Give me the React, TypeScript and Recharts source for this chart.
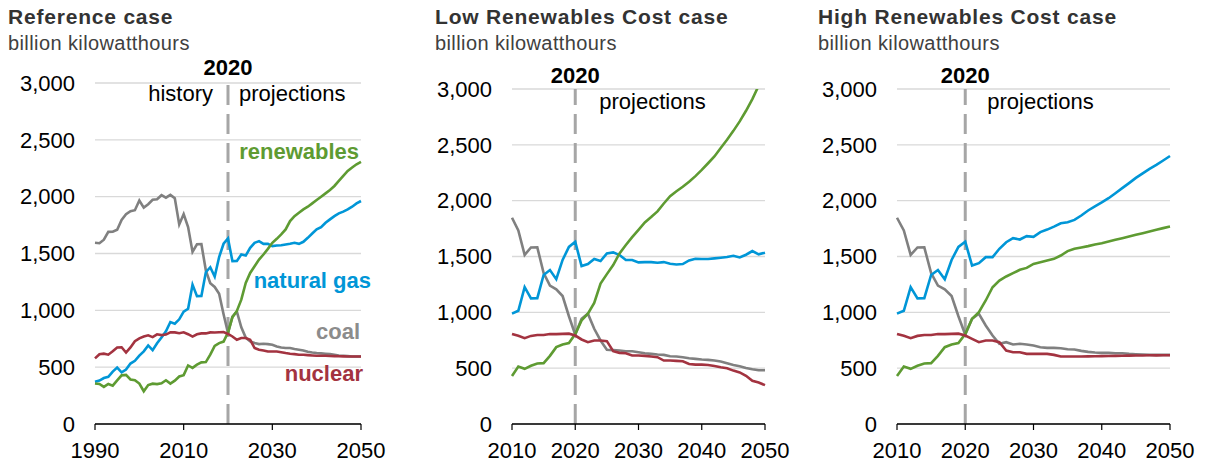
import React from 'react';
import { LineChart, Line, XAxis, YAxis, CartesianGrid, ReferenceLine } from 'recharts';

const FONT = '"Liberation Sans", Arial, Helvetica, sans-serif';

const COLORS = {
  coal: '#808080',
  gas: '#0096d7',
  nuclear: '#a33340',
  renewables: '#5e9b32',
};

// Historical data, 1990-2020 (billion kWh)
const histYears = [
  1990, 1991, 1992, 1993, 1994, 1995, 1996, 1997, 1998, 1999,
  2000, 2001, 2002, 2003, 2004, 2005, 2006, 2007, 2008, 2009,
  2010, 2011, 2012, 2013, 2014, 2015, 2016, 2017, 2018, 2019, 2020,
];
const coalHist = [
  1594, 1590, 1621, 1690, 1691, 1709, 1796, 1845, 1873, 1881,
  1966, 1904, 1933, 1973, 1978, 2013, 1991, 2016, 1986, 1756,
  1847, 1733, 1514, 1581, 1582, 1352, 1239, 1206, 1146, 965, 800,
];
const gasHist = [
  372, 382, 404, 415, 461, 496, 455, 479, 532, 556,
  601, 639, 691, 650, 710, 761, 816, 897, 883, 921,
  988, 1014, 1226, 1125, 1127, 1335, 1379, 1297, 1469, 1586, 1632,
];
const nuclearHist = [
  577, 613, 619, 610, 640, 673, 675, 629, 674, 728,
  754, 769, 780, 764, 789, 782, 787, 806, 806, 799,
  807, 790, 769, 789, 797, 797, 806, 805, 807, 809, 792,
];
const renewHist = [
  357, 352, 326, 352, 337, 384, 428, 432, 392, 386,
  356, 288, 343, 355, 351, 358, 385, 355, 381, 418,
  430, 515, 494, 522, 542, 545, 610, 688, 712, 725, 805,
];

// Projection years, 2021-2050
const projYears = [
  2021, 2022, 2023, 2024, 2025, 2026, 2027, 2028, 2029, 2030,
  2031, 2032, 2033, 2034, 2035, 2036, 2037, 2038, 2039, 2040,
  2041, 2042, 2043, 2044, 2045, 2046, 2047, 2048, 2049, 2050,
];

// Reference case
const refCoal = [
  945, 988, 850, 760, 726, 712, 703, 706, 703, 697,
  682, 673, 668, 668, 659, 653, 647, 635, 629, 624,
  621, 618, 615, 609, 603, 600, 597, 594, 594, 594,
];
const refGas = [
  1432, 1435, 1491, 1482, 1550, 1594, 1609, 1585, 1585, 1565,
  1570, 1573, 1579, 1585, 1594, 1585, 1603, 1638, 1676, 1712,
  1732, 1770, 1800, 1829, 1853, 1868, 1888, 1912, 1941, 1962,
];
const refNuclear = [
  770, 741, 756, 756, 741, 668, 653, 647, 638, 638,
  638, 632, 624, 618, 615, 609, 609, 606, 603, 600,
  600, 600, 598, 597, 596, 595, 594, 594, 594, 594,
];
const refRenew = [
  940, 995, 1094, 1241, 1329, 1388, 1447, 1491, 1541, 1594,
  1629, 1668, 1712, 1785, 1829, 1859, 1888, 1912, 1941, 1970,
  2000, 2029, 2059, 2094, 2138, 2182, 2226, 2256, 2285, 2306,
];

// Low Renewables Cost case
const lowCoal = [
  943, 988, 853, 748, 665, 662, 658, 652, 652, 643,
  634, 628, 622, 619, 607, 604, 598, 589, 583, 577,
  574, 568, 559, 544, 529, 517, 502, 490, 481, 481,
];
const lowGas = [
  1414, 1432, 1477, 1459, 1528, 1537, 1513, 1468, 1468, 1447,
  1450, 1450, 1444, 1450, 1435, 1429, 1432, 1465, 1480, 1477,
  1477, 1483, 1489, 1495, 1507, 1492, 1516, 1549, 1519, 1534,
];
const lowNuclear = [
  757, 733, 748, 748, 742, 652, 637, 634, 613, 613,
  610, 604, 598, 568, 568, 565, 562, 538, 532, 532,
  529, 520, 508, 499, 478, 462, 432, 387, 372, 348,
];
const lowRenew = [
  928, 988, 1084, 1258, 1342, 1423, 1528, 1603, 1673, 1739,
  1805, 1853, 1904, 1975, 2040, 2085, 2125, 2170, 2220, 2275,
  2335, 2396, 2471, 2546, 2625, 2710, 2805, 2910, 3030, 3160,
];

// High Renewables Cost case
const highCoal = [
  942, 987, 882, 792, 718, 733, 712, 718, 712, 703,
  688, 682, 682, 679, 670, 667, 655, 646, 640, 637,
  637, 634, 634, 628, 625, 622, 619, 619, 619, 619,
];
const highGas = [
  1419, 1440, 1494, 1494, 1569, 1628, 1664, 1652, 1682, 1676,
  1718, 1741, 1768, 1798, 1807, 1828, 1867, 1912, 1948, 1984,
  2022, 2067, 2112, 2157, 2204, 2245, 2285, 2320, 2360, 2400,
];
const highNuclear = [
  762, 733, 748, 748, 733, 658, 643, 643, 628, 628,
  628, 628, 619, 604, 604, 605, 605, 606, 607, 608,
  609, 610, 611, 612, 613, 614, 615, 615, 616, 616,
];
const highRenew = [
  942, 1001, 1106, 1225, 1285, 1321, 1351, 1381, 1398, 1434,
  1449, 1464, 1479, 1509, 1548, 1569, 1581, 1593, 1607, 1619,
  1634, 1649, 1664, 1679, 1694, 1709, 1724, 1739, 1754, 1768,
];

const yTicks = [0, 500, 1000, 1500, 2000, 2500, 3000];
const refXTicks = [1990, 2010, 2030, 2050];
const altXTicks = [2010, 2020, 2030, 2040, 2050];

type Proj = { coal: number[]; gas: number[]; nuclear: number[]; renewables: number[] };

function buildRows(fromYear: number, proj: Proj) {
  const rows: any[] = [];
  histYears.forEach((y, i) => {
    if (y >= fromYear) {
      rows.push({ year: y, coal: coalHist[i], gas: gasHist[i], nuclear: nuclearHist[i], renewables: renewHist[i] });
    }
  });
  projYears.forEach((y, i) => {
    rows.push({ year: y, coal: proj.coal[i], gas: proj.gas[i], nuclear: proj.nuclear[i], renewables: proj.renewables[i] });
  });
  return rows;
}

const refRows = buildRows(1990, { coal: refCoal, gas: refGas, nuclear: refNuclear, renewables: refRenew });
const lowRows = buildRows(2010, { coal: lowCoal, gas: lowGas, nuclear: lowNuclear, renewables: lowRenew });
const highRows = buildRows(2010, { coal: highCoal, gas: highGas, nuclear: highNuclear, renewables: highRenew });

const fmt = (v: number) => v.toLocaleString('en-US');

function makeAnnotation(yearDy: number, showHistory: boolean, projDx: number, textDy: number) {
  return (props: any) => {
    const vb = props.viewBox || {};
    const x = vb.x ?? 0;
    const y = vb.y ?? 0;
    return (
      <g fontFamily={FONT}>
        <text x={x} y={y + yearDy} textAnchor="middle" fontSize={22} fontWeight="bold" fill="#000">
          2020
        </text>
        {showHistory && (
          <text x={x - 15} y={y + textDy} textAnchor="end" fontSize={22} fill="#000">
            history
          </text>
        )}
        <text x={x + projDx} y={y + textDy} textAnchor="start" fontSize={22} fill="#000">
          projections
        </text>
      </g>
    );
  };
}

type PanelProps = {
  left: number;
  width: number;
  top: number;
  right: number;
  yWidth: number;
  rows: any[];
  domain: [number, number];
  xTicks: number[];
  annotation: (p: any) => React.ReactElement;
};

function Panel({ left, width, top, right, yWidth, rows, domain, xTicks, annotation }: PanelProps) {
  return (
    <div style={{ position: 'absolute', left, top: 0, width, height: 463 }}>
      <LineChart width={width} height={463} data={rows} margin={{ top, right, bottom: 0, left: 0 }}>
        <CartesianGrid horizontal vertical={false} stroke="#d9d9d9" strokeWidth={1.3} />
        <XAxis
          dataKey="year"
          type="number"
          domain={domain}
          ticks={xTicks}
          interval={0}
          height={39}
          axisLine={{ stroke: '#000', strokeWidth: 1.4 }}
          tickLine={{ stroke: '#000', strokeWidth: 1.2 }}
          tickSize={6}
          tickMargin={12}
          tick={{ fontSize: 22, fill: '#000', fontFamily: FONT }}
        />
        <YAxis
          type="number"
          domain={[0, 3000]}
          ticks={yTicks}
          interval={0}
          allowDataOverflow
          width={yWidth}
          axisLine={false}
          tickLine={false}
          tickSize={0}
          tickMargin={20}
          tickFormatter={fmt}
          tick={{ fontSize: 22, fill: '#000', fontFamily: FONT }}
        />
        <ReferenceLine
          x={2020}
          stroke="#a6a6a6"
          strokeWidth={3}
          strokeDasharray="20 9"
          label={annotation}
        />
        <Line type="linear" dataKey="coal" stroke={COLORS.coal} strokeWidth={2.6} dot={false} isAnimationActive={false} />
        <Line type="linear" dataKey="gas" stroke={COLORS.gas} strokeWidth={2.6} dot={false} isAnimationActive={false} />
        <Line type="linear" dataKey="renewables" stroke={COLORS.renewables} strokeWidth={2.6} dot={false} isAnimationActive={false} />
        <Line type="linear" dataKey="nuclear" stroke={COLORS.nuclear} strokeWidth={2.6} dot={false} isAnimationActive={false} />
      </LineChart>
    </div>
  );
}

const titles = ['Reference case', 'Low Renewables Cost case', 'High Renewables Cost case'];
const unitLabel = 'billion kilowatthours';

export default function App() {
  return (
    <div style={{ position: 'absolute', left: 0, top: 0, width: 1206, height: 463, background: '#fff', overflow: 'hidden' }}>
      <Panel left={0} width={400} top={83} right={39} yWidth={95} rows={refRows} domain={[1990, 2050]} xTicks={refXTicks}
        annotation={makeAnnotation(-8, true, 11, 18)} />
      <Panel left={400} width={400} top={89} right={35} yWidth={112} rows={lowRows} domain={[2010, 2050]} xTicks={altXTicks}
        annotation={makeAnnotation(-6, false, 24, 20)} />
      <Panel left={800} width={406} top={89} right={36} yWidth={97} rows={highRows} domain={[2010, 2050]} xTicks={altXTicks}
        annotation={makeAnnotation(-6.5, false, 22, 20)} />
      <svg width={1206} height={463} style={{ position: 'absolute', left: 0, top: 0, pointerEvents: 'none' }} fontFamily={FONT}>
        <text x={8} y={24} fontSize={21} fontWeight="bold" fill="#333" letterSpacing={0.8}>{titles[0]}</text>
        <text x={435} y={24} fontSize={21} fontWeight="bold" fill="#333" letterSpacing={0.8}>{titles[1]}</text>
        <text x={818} y={24} fontSize={21} fontWeight="bold" fill="#333" letterSpacing={0.8}>{titles[2]}</text>
        <text x={8} y={49.5} fontSize={20} fill="#404040" letterSpacing={0.4}>{unitLabel}</text>
        <text x={435} y={49.5} fontSize={20} fill="#404040" letterSpacing={0.4}>{unitLabel}</text>
        <text x={818} y={49.5} fontSize={20} fill="#404040" letterSpacing={0.4}>{unitLabel}</text>
        <text x={359} y={158.5} textAnchor="end" fontSize={22} fontWeight="bold" fill={COLORS.renewables}>renewables</text>
        <text x={371} y={288} textAnchor="end" fontSize={22} fontWeight="bold" fill={COLORS.gas}>natural gas</text>
        <text x={360} y={339} textAnchor="end" fontSize={22} fontWeight="bold" fill="#8c8c8c">coal</text>
        <text x={363} y={381} textAnchor="end" fontSize={22} fontWeight="bold" fill={COLORS.nuclear}>nuclear</text>
      </svg>
    </div>
  );
}
